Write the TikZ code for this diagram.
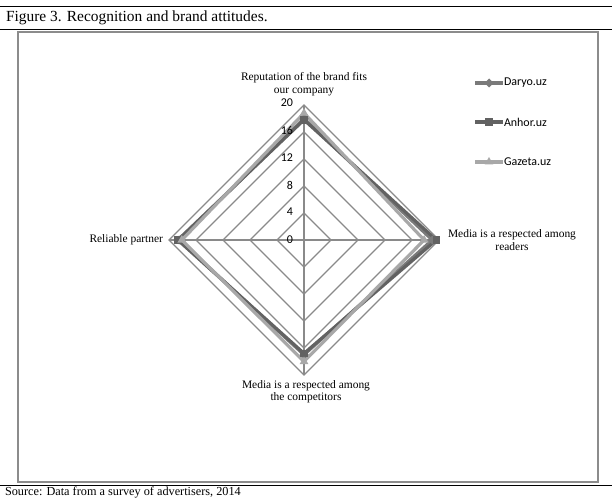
\documentclass[tikz,border=0pt]{standalone}
\usepackage{fontspec}
\setmainfont{Liberation Serif}
\newfontfamily\chartfont{Carlito}
\usetikzlibrary{shapes.geometric}

\definecolor{gridgray}{HTML}{8A8A8A}
\definecolor{framegray}{HTML}{8C8C8C}
\definecolor{daryocol}{HTML}{7A7A7A}
\definecolor{anhorcol}{HTML}{626262}
\definecolor{gazetacol}{HTML}{A8A8A8}

\begin{document}
\begin{tikzpicture}[
  x=1bp, y=-1bp,
  every node/.style={inner sep=0pt, outer sep=0pt},
  gridline/.style={draw=gridgray, line width=1.3bp, line join=miter},
  series/.style={line width=3.2bp, line join=round},
  rule/.style={draw=black, line width=0.9bp},
  tick/.style={font=\chartfont\fontsize{12}{13}\selectfont, anchor=east},
  axislabel/.style={font=\fontsize{11.5}{12.5}\selectfont, align=center},
  legendtext/.style={font=\chartfont\fontsize{12}{13}\selectfont, anchor=west},
  dmark/.style={diamond, fill=#1, minimum size=9bp},
  smark/.style={rectangle, fill=#1, minimum size=7.5bp},
  tmark/.style={regular polygon, regular polygon sides=3, fill=#1, minimum size=10bp}
]
\useasboundingbox (0,0) rectangle (612,500);

% centre of the radar and pixels per unit
\def\cx{304}
\def\cy{240}
\def\k{6.75}

% page rules, title and source
\draw[rule] (0,6) -- (612,6);
\draw[rule] (0,29) -- (612,29);
\draw[rule] (0,485) -- (612,485);
\node[anchor=west, font=\fontsize{15.5}{17}\selectfont] (title) at (6,17.5)
     {Figure 3. Recognition and brand attitudes.};
\node[anchor=west, font=\fontsize{12.3}{13}\selectfont] (source) at (5,493)
     {Source: Data from a survey of advertisers, 2014};

% chart frame
\draw[draw=framegray, line width=1.6bp] (18,32) rectangle (598,482);

% grid rings
\draw[gridline] (\cx,{\cy-27})  -- ({\cx+27},\cy)  -- (\cx,{\cy+27})  -- ({\cx-27},\cy)  -- cycle;
\draw[gridline] (\cx,{\cy-54})  -- ({\cx+54},\cy)  -- (\cx,{\cy+54})  -- ({\cx-54},\cy)  -- cycle;
\draw[gridline] (\cx,{\cy-81})  -- ({\cx+81},\cy)  -- (\cx,{\cy+81})  -- ({\cx-81},\cy)  -- cycle;
\draw[gridline] (\cx,{\cy-108}) -- ({\cx+108},\cy) -- (\cx,{\cy+108}) -- ({\cx-108},\cy) -- cycle;
\draw[gridline] (\cx,{\cy-135}) -- ({\cx+135},\cy) -- (\cx,{\cy+135}) -- ({\cx-135},\cy) -- cycle;

% spokes
\draw[gridline] (\cx,\cy) -- (\cx,{\cy-135});
\draw[gridline] (\cx,\cy) -- ({\cx+135},\cy);
\draw[gridline] (\cx,\cy) -- (\cx,{\cy+135});
\draw[gridline] (\cx,\cy) -- ({\cx-135},\cy);

% data points
\coordinate (daryoT)  at (\cx,{\cy-\k*18});
\coordinate (daryoR)  at ({\cx+\k*19},\cy);
\coordinate (daryoB)  at (\cx,{\cy+\k*17});
\coordinate (daryoL)  at ({\cx-\k*18.5},\cy);

\coordinate (anhorT)  at (\cx,{\cy-\k*17.8});
\coordinate (anhorR)  at ({\cx+\k*19.6},\cy);
\coordinate (anhorB)  at (\cx,{\cy+\k*16.8});
\coordinate (anhorL)  at ({\cx-\k*18.7},\cy);

\coordinate (gazetaT) at (\cx,{\cy-\k*18.8});
\coordinate (gazetaR) at ({\cx+\k*17.8},\cy);
\coordinate (gazetaB) at (\cx,{\cy+\k*18});
\coordinate (gazetaL) at ({\cx-\k*18.1},\cy);

% series
\draw[series, daryocol]  (daryoT) -- (daryoR) -- (daryoB) -- (daryoL) -- cycle;
\draw[series, anhorcol]  (anhorT) -- (anhorR) -- (anhorB) -- (anhorL) -- cycle;
\draw[series, gazetacol] (gazetaT) -- (gazetaR) -- (gazetaB) -- (gazetaL) -- cycle;

\node[dmark=daryocol] (mdT) at (daryoT) {};
\node[dmark=daryocol] (mdR) at (daryoR) {};
\node[dmark=daryocol] (mdB) at (daryoB) {};
\node[dmark=daryocol] (mdL) at (daryoL) {};

\node[smark=anhorcol] (maT) at (anhorT) {};
\node[smark=anhorcol] (maR) at (anhorR) {};
\node[smark=anhorcol] (maB) at (anhorB) {};
\node[smark=anhorcol] (maL) at (anhorL) {};

\node[tmark=gazetacol] (mgT) at (gazetaT) {};
\node[tmark=gazetacol] (mgR) at (gazetaR) {};
\node[tmark=gazetacol] (mgB) at (gazetaB) {};
\node[tmark=gazetacol] (mgL) at (gazetaL) {};

% tick labels, on top of the series
\node[tick] (tick0)  at (293,{\cy-0.5}) {0};
\node[tick] (tick4)  at (293,{\cy-28})  {4};
\node[tick] (tick8)  at (293,{\cy-55})  {8};
\node[tick] (tick12) at (293,{\cy-82})  {12};
\node[tick] (tick16) at (293,{\cy-109}) {16};
\node[tick] (tick20) at (293,{\cy-137}) {20};

% axis labels
\node[axislabel] (labTop) at (\cx,84)
     {Reputation of the brand fits\\our company};
\node[axislabel] (labRight) at (512,240)
     {Media is a respected among\\readers};
\node[axislabel] (labBottom) at (306,392)
     {Media is a respected among\\the competitors};
\node[axislabel, anchor=east] (labLeft) at (163,240) {Reliable partner};

% legend
\coordinate (legD1) at (475,83);  \coordinate (legD2) at (503,83);
\coordinate (legA1) at (475,122); \coordinate (legA2) at (503,122);
\coordinate (legG1) at (475,162); \coordinate (legG2) at (503,162);
\draw[series, daryocol]  (legD1) -- (legD2);
\draw[series, anhorcol]  (legA1) -- (legA2);
\draw[series, gazetacol] (legG1) -- (legG2);
\node[dmark=daryocol]  (legDm) at (489,83)  {};
\node[smark=anhorcol]  (legAm) at (489,122) {};
\node[tmark=gazetacol] (legGm) at (489,162) {};
\node[legendtext] (legDt) at (504,83)  {Daryo.uz};
\node[legendtext] (legAt) at (504,122) {Anhor.uz};
\node[legendtext] (legGt) at (504,162) {Gazeta.uz};

\end{tikzpicture}
\end{document}
